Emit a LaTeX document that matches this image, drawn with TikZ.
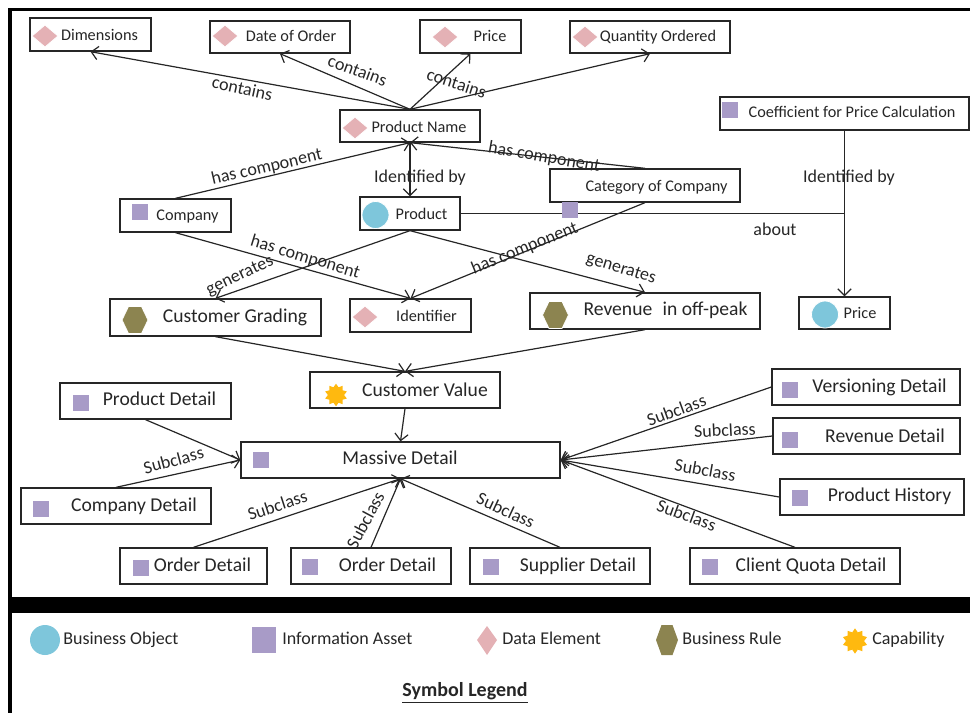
\documentclass[tikz,border=0pt]{standalone}
\usepackage{fontspec}
\setmainfont{Carlito}
\usetikzlibrary{arrows.meta,fit,shapes.geometric}
\definecolor{bocol}{HTML}{7EC6DB}
\definecolor{iacol}{HTML}{A89BC7}
\definecolor{decol}{HTML}{E4B1B5}
\definecolor{brcol}{HTML}{8C8450}
\definecolor{capcol}{HTML}{FFB90F}
\definecolor{ink}{HTML}{262626}
\newcommand\icDia[2]{\filldraw[fill=decol,draw=white,line width=0.6pt] (#1-13,#2) -- (#1,#2-11) -- (#1+13,#2) -- (#1,#2+11) -- cycle;}
\newcommand\icSq[2]{\fill[iacol] (#1-8,#2-8) rectangle (#1+8,#2+8);}
\newcommand\icCirc[2]{\filldraw[fill=bocol,draw=white,line width=0.6pt] (#1,#2) circle [radius=13.5];}
\newcommand\icHex[2]{\filldraw[fill=brcol,draw=white,line width=0.6pt] (#1-13,#2) -- (#1-6.5,#2-13.5) -- (#1+6.5,#2-13.5) -- (#1+13,#2) -- (#1+6.5,#2+13.5) -- (#1-6.5,#2+13.5) -- cycle;}
\begin{document}
\begin{tikzpicture}[x=0.75pt,y=-0.75pt,
  box/.style={draw=ink, line width=1pt, inner sep=0pt},
  sm/.style={font=\fontsize{12.2}{14}\selectfont, inner sep=0pt, text=ink, text height=0.66em, text depth=0.02em},
  bg/.style={font=\fontsize{14.7}{17}\selectfont, inner sep=0pt, text=ink, text height=0.66em, text depth=0.02em},
  el/.style={font=\fontsize{13.5}{16}\selectfont, inner sep=0pt, text=ink, text height=0.66em, text depth=0.02em},
  lg/.style={font=\fontsize{13.5}{16}\selectfont, inner sep=0pt, text=ink, anchor=west, text height=0.66em, text depth=0.02em},
  conn/.style={draw=ink, line width=0.9pt, -{Straight Barb[length=5pt,width=10pt,line width=0.9pt]}},
  lineonly/.style={draw=ink, line width=0.9pt},
  starnode/.style={star, star points=10, star point ratio=1.4, fill=capcol, inner sep=0pt, minimum size=17pt}]
\useasboundingbox (0,0) rectangle (970,713);
% frame
\draw[black, line width=2.4pt] (970,9.5) -- (10,9.5) -- (10,713);
\fill[black] (10,597) rectangle (970,613);
% boxes
\node[box, fit={(30,18)(151,51)}] (dimB) {};
\node[box, fit={(210,21)(350,53)}] (dateB) {};
\node[box, fit={(420,20)(521,53)}] (priceTB) {};
\node[box, fit={(570,21)(730,53)}] (qtyB) {};
\node[box, fit={(340,110)(480,142)}] (pnB) {};
\node[box, fit={(720,97)(969,130)}] (coefB) {};
\node[box, fit={(550,169)(740,202)}] (catB) {};
\node[box, fit={(120,199)(231,232)}] (compB) {};
\node[box, fit={(360,197)(460,230)}] (prodB) {};
\node[box, fit={(110,299)(321,336)}] (cgB) {};
\node[box, fit={(350,299)(471,332)}] (idB) {};
\node[box, fit={(530,293)(760,329)}] (revB) {};
\node[box, fit={(799,297)(890,329)}] (priceBB) {};
\node[box, fit={(310,372)(500,408)}] (cvB) {};
\node[box, fit={(60,383)(231,419)}] (pdB) {};
\node[box, fit={(241,442)(560,478)}] (mdB) {};
\node[box, fit={(21,488)(211,524)}] (cdB) {};
\node[box, fit={(120,548)(267,584)}] (odaB) {};
\node[box, fit={(291,548)(451,584)}] (odbB) {};
\node[box, fit={(470,548)(650,584)}] (supB) {};
\node[box, fit={(690,548)(900,584)}] (cqB) {};
\node[box, fit={(772,369)(960,405)}] (verB) {};
\node[box, fit={(773,418)(960,454)}] (rdB) {};
\node[box, fit={(780,479)(964,515)}] (phB) {};
% connectors
\draw[conn] (pnB.north) -- (dimB.south);
\draw[conn] (pnB.north) -- (dateB.south);
\draw[conn] (pnB.north) -- (priceTB.south);
\draw[conn] (pnB.north) -- (qtyB.south);
\draw[conn] (compB.north) -- (pnB.south);
\draw[conn] (catB.north) -- (pnB.south);
\draw[conn] (pnB.south) -- (prodB.north);
\coordinate (J) at (coefB.south |- prodB.east);
\draw[lineonly] (prodB.east) -- (J);
\draw[conn] (coefB.south) -- (priceBB.north);
\draw[conn] (prodB.south) -- (cgB.north);
\draw[conn] (prodB.south) -- (revB.north);
\draw[conn] (compB.south) -- (idB.north);
\draw[conn] (catB.south) -- (idB.north);
\draw[conn] (cgB.south) -- (cvB.north);
\draw[conn] (revB.south) -- (cvB.north);
\draw[conn] (cvB.south) -- (mdB.north);
\draw[conn] (pdB.south) -- (mdB.west);
\draw[conn] (cdB.north) -- (mdB.west);
\draw[conn] (odaB.north) -- (mdB.south);
\draw[conn] (odbB.north) -- (mdB.south);
\draw[conn] (supB.north) -- (mdB.south);
\draw[conn] (cqB.north) -- (mdB.east);
\draw[conn] (phB.west) -- (mdB.east);
\draw[conn] (rdB.west) -- (mdB.east);
\draw[conn] (verB.west) -- (mdB.east);
% icons
\icDia{45}{36}\icDia{225}{36}\icDia{445}{37}\icDia{585}{37}\icDia{355}{128}\icDia{365}{317}
\icSq{730}{110}\icSq{570}{210}\icSq{140}{212}\icSq{80.5}{403}\icSq{261}{460}\icSq{41}{509}
\icSq{140.5}{567.5}\icSq{310}{567}\icSq{490.5}{567}\icSq{710}{567}\icSq{790}{389.5}\icSq{790}{439.5}\icSq{800}{498}
\icCirc{375.5}{215}\icCirc{825}{314.5}
\icHex{135}{320}\icHex{555.5}{315}
\node[starnode] (cvStar) at (336,395) {};
% box texts
\node[sm] (dimT) at (99.5,36) {Dimensions};
\node[sm] (dateT) at (291,37) {Date of Order};
\node[sm] (priceTT) at (490,37) {Price};
\node[sm] (qtyT) at (658,37) {Quantity Ordered};
\node[sm] (pnT) at (419,128) {Product Name};
\node[sm] (coefT) at (852,113) {Coefficient for Price Calculation};
\node[sm] (catT) at (656.5,187) {Category of Company};
\node[sm] (compT) at (187.5,216) {Company};
\node[sm] (prodT) at (421.5,215) {Product};
\node[bg] (cgT) at (235,318) {Customer Grading};
\node[sm] (idT) at (426.5,317) {Identifier};
\node[bg] (revT) at (665.5,311) {Revenue\hspace{0.3em} in off-peak};
\node[sm] (priceBT) at (860,314) {Price};
\node[bg] (cvT) at (425,392) {Customer Value};
\node[bg] (pdT) at (159.5,401) {Product Detail};
\node[bg] (mdT) at (400,460) {Massive Detail};
\node[bg] (cdT) at (134,507) {Company Detail};
\node[bg] (odaT) at (202.5,567) {Order Detail};
\node[bg] (odbT) at (387.5,567) {Order Detail};
\node[bg] (supT) at (578,567) {Supplier Detail};
\node[bg] (cqT) at (811,567) {Client Quota Detail};
\node[bg] (verT) at (879.5,388) {Versioning Detail};
\node[bg] (rdT) at (885,438) {Revenue Detail};
\node[bg] (phT) at (889.5,497) {Product History};
% edge labels
\node[el, rotate=-12] (l1) at (242,90) {contains};
\node[el, rotate=-20] (l2) at (357,72) {contains};
\node[el, rotate=-18] (l3) at (456,85) {contains};
\node[el, rotate=13] (l4) at (267,168) {has component};
\node[el, rotate=-10] (l5) at (544,158) {has component};
\node[el] (l6) at (420,178) {Identified by};
\node[el] (l7) at (849,178) {Identified by};
\node[el] (l8) at (775,231) {about};
\node[el, rotate=25] (l9) at (240,276) {generates};
\node[el, rotate=-17] (l10) at (305,258) {has component};
\node[el, rotate=22] (l11) at (525,249) {has component};
\node[el, rotate=-17] (l12) at (621,269) {generates};
\node[el, rotate=15] (l13) at (174,462) {Subclass};
\node[el, rotate=18] (l14) at (278,507) {Subclass};
\node[el, rotate=62] (l15) at (367,521) {Subclass};
\node[el, rotate=-25] (l16) at (505,512) {Subclass};
\node[el, rotate=-20] (l17) at (686,517) {Subclass};
\node[el, rotate=-10] (l18) at (705,472) {Subclass};
\node[el, rotate=3] (l19) at (725,432) {Subclass};
\node[el, rotate=20] (l20) at (677,412) {Subclass};
% legend
\fill[bocol] (45,640) circle [radius=15];
\node[lg] (lgBO) at (63,640) {Business Object};
\fill[iacol] (252,627) rectangle (276,653);
\node[lg] (lgIA) at (282,640) {Information Asset};
\fill[decol] (477,640) -- (487,626) -- (497,640) -- (487,655) -- cycle;
\node[lg] (lgDE) at (502,640) {Data Element};
\fill[brcol] (656,640) -- (661.5,625) -- (672.5,625) -- (678,640) -- (672.5,655) -- (661.5,655) -- cycle;
\node[lg] (lgBR) at (682,640) {Business Rule};
\node[starnode, minimum size=19pt] (lgStar) at (855,641) {};
\node[lg] (lgCap) at (872,640) {Capability};
\node[font=\fontsize{15}{18}\selectfont\bfseries, inner sep=0pt, text=ink] (lgTitle) at (465,693) {\underline{Symbol Legend}};
\end{tikzpicture}
\end{document}
